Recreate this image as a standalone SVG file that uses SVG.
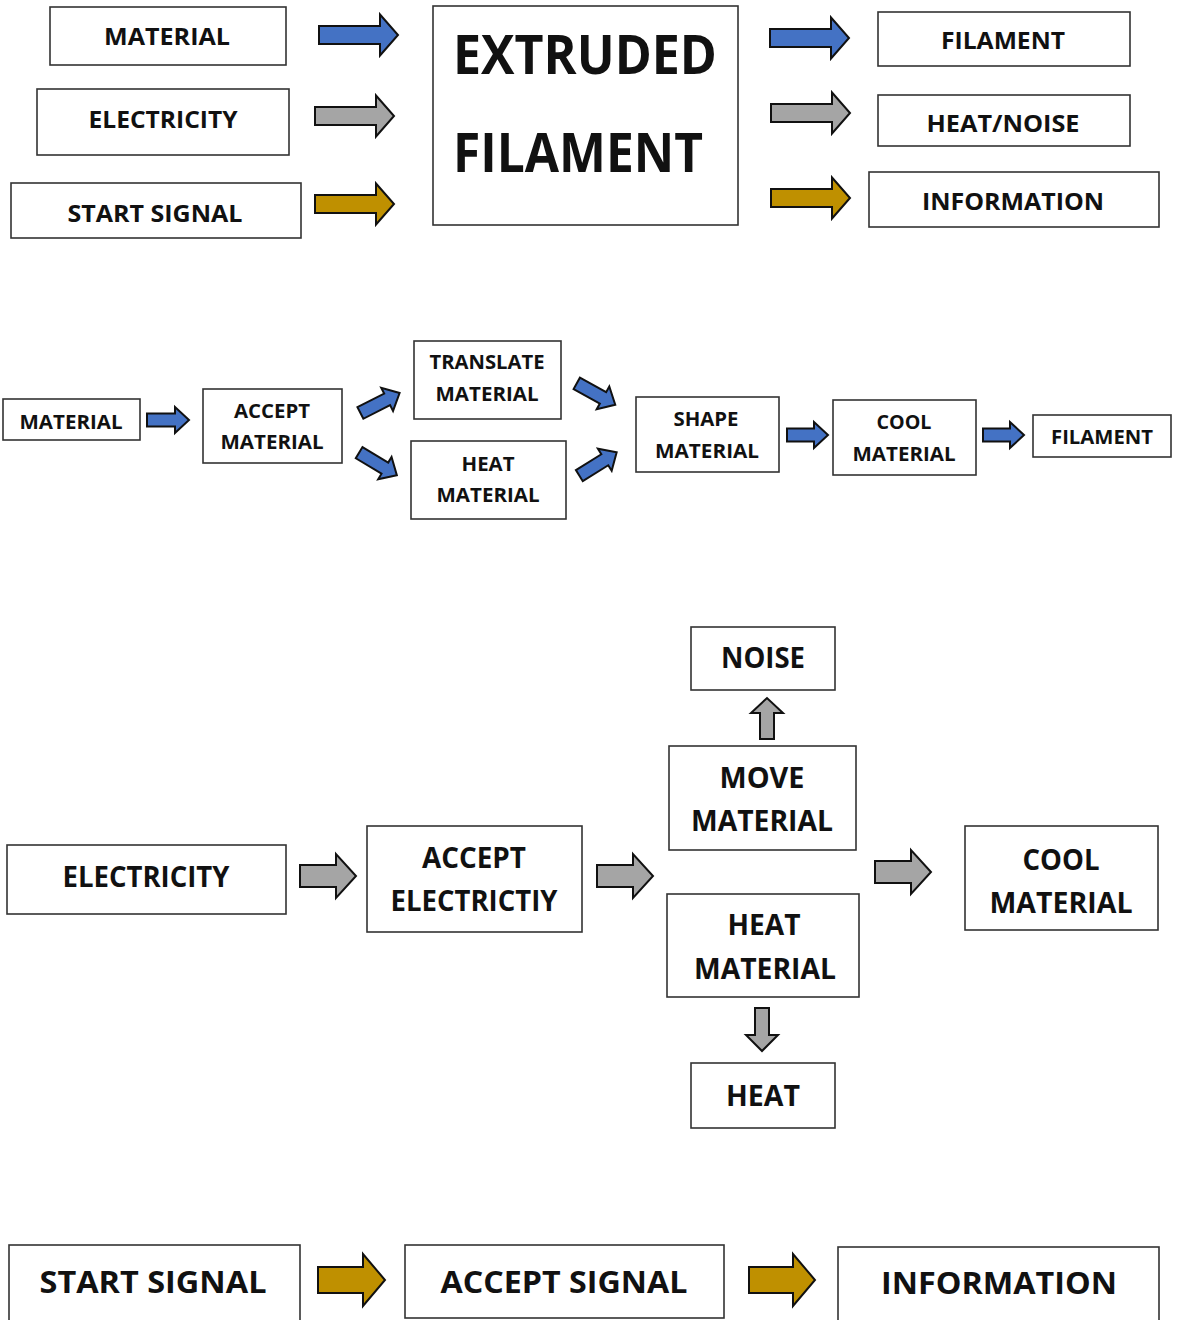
<svg xmlns="http://www.w3.org/2000/svg" width="1177" height="1320" viewBox="0 0 1177 1320">
<style>
.box{fill:#fff;stroke:#333;stroke-width:1.6}
.t{font-family:"Open Sans","Liberation Sans",sans-serif;font-weight:700;fill:#111;text-anchor:middle;dominant-baseline:central}
.blue{fill:#4472C4;stroke:#111;stroke-width:2;stroke-linejoin:miter}
.gray{fill:#A5A5A5;stroke:#111;stroke-width:2}
.gold{fill:#BF9000;stroke:#111;stroke-width:2}
</style>
<defs>
<polygon id="da" points="-22,-6.5 8,-6.5 8,-13 22,0 8,13 8,6.5 -22,6.5"/>
</defs>
<rect width="1177" height="1320" fill="#fff"/>

<!-- Section 1 -->
<g id="s1-material"><rect class="box" x="50" y="7" width="236" height="58"/><text class="t" x="167" y="35" font-size="24" textLength="126" lengthAdjust="spacingAndGlyphs">MATERIAL</text></g>
<g id="s1-electricity"><rect class="box" x="37" y="89" width="252" height="66"/><text class="t" x="163" y="118" font-size="24" textLength="149" lengthAdjust="spacingAndGlyphs">ELECTRICITY</text></g>
<g id="s1-start"><rect class="box" x="11" y="183" width="290" height="55"/><text class="t" x="155" y="212" font-size="24" textLength="175" lengthAdjust="spacingAndGlyphs">START SIGNAL</text></g>
<g id="s1-extruded"><rect class="box" x="433" y="6" width="305" height="219"/>
<text class="t" x="585" y="53" font-size="54" textLength="264" lengthAdjust="spacingAndGlyphs">EXTRUDED</text>
<text class="t" x="578" y="151" font-size="54" textLength="250" lengthAdjust="spacingAndGlyphs">FILAMENT</text></g>
<g id="s1-filament"><rect class="box" x="878" y="12" width="252" height="54"/><text class="t" x="1003" y="39" font-size="24" textLength="124" lengthAdjust="spacingAndGlyphs">FILAMENT</text></g>
<g id="s1-heatnoise"><rect class="box" x="878" y="95" width="252" height="51"/><text class="t" x="1003" y="122" font-size="24" textLength="153" lengthAdjust="spacingAndGlyphs">HEAT/NOISE</text></g>
<g id="s1-information"><rect class="box" x="869" y="172" width="290" height="55"/><text class="t" x="1013" y="200" font-size="24" textLength="182" lengthAdjust="spacingAndGlyphs">INFORMATION</text></g>

<!-- Section 2 -->
<g id="s2-material"><rect class="box" x="3" y="399" width="137" height="41"/><text class="t" x="71" y="422" font-size="19" textLength="103" lengthAdjust="spacingAndGlyphs">MATERIAL</text></g>
<g id="s2-accept"><rect class="box" x="203" y="389" width="139" height="74"/>
<text class="t" x="272" y="411" font-size="19" textLength="76" lengthAdjust="spacingAndGlyphs">ACCEPT</text>
<text class="t" x="272" y="442" font-size="19" textLength="103" lengthAdjust="spacingAndGlyphs">MATERIAL</text></g>
<g id="s2-translate"><rect class="box" x="414" y="341" width="147" height="78"/>
<text class="t" x="487" y="362" font-size="19" textLength="115" lengthAdjust="spacingAndGlyphs">TRANSLATE</text>
<text class="t" x="487" y="394" font-size="19" textLength="103" lengthAdjust="spacingAndGlyphs">MATERIAL</text></g>
<g id="s2-heat"><rect class="box" x="411" y="441" width="155" height="78"/>
<text class="t" x="488" y="464" font-size="19" textLength="53" lengthAdjust="spacingAndGlyphs">HEAT</text>
<text class="t" x="488" y="495" font-size="19" textLength="103" lengthAdjust="spacingAndGlyphs">MATERIAL</text></g>
<g id="s2-shape"><rect class="box" x="636" y="397" width="143" height="75"/>
<text class="t" x="706" y="419" font-size="19" textLength="65" lengthAdjust="spacingAndGlyphs">SHAPE</text>
<text class="t" x="707" y="451" font-size="19" textLength="104" lengthAdjust="spacingAndGlyphs">MATERIAL</text></g>
<g id="s2-cool"><rect class="box" x="833" y="400" width="143" height="75"/>
<text class="t" x="904" y="422" font-size="19" textLength="55" lengthAdjust="spacingAndGlyphs">COOL</text>
<text class="t" x="904" y="454" font-size="19" textLength="103" lengthAdjust="spacingAndGlyphs">MATERIAL</text></g>
<g id="s2-filament"><rect class="box" x="1033" y="415" width="138" height="42"/><text class="t" x="1102" y="437" font-size="19" textLength="102" lengthAdjust="spacingAndGlyphs">FILAMENT</text></g>

<!-- Section 3 -->
<g id="s3-electricity"><rect class="box" x="7" y="845" width="279" height="69"/><text class="t" x="146" y="876" font-size="28" textLength="167" lengthAdjust="spacingAndGlyphs">ELECTRICITY</text></g>
<g id="s3-accept"><rect class="box" x="367" y="826" width="215" height="106"/>
<text class="t" x="474" y="857" font-size="28" textLength="104" lengthAdjust="spacingAndGlyphs">ACCEPT</text>
<text class="t" x="474" y="900" font-size="28" textLength="167" lengthAdjust="spacingAndGlyphs">ELECTRICTIY</text></g>
<g id="s3-noise"><rect class="box" x="691" y="627" width="144" height="63"/><text class="t" x="763" y="657" font-size="28" textLength="84" lengthAdjust="spacingAndGlyphs">NOISE</text></g>
<g id="s3-move"><rect class="box" x="669" y="746" width="187" height="104"/>
<text class="t" x="762" y="777" font-size="28" textLength="85" lengthAdjust="spacingAndGlyphs">MOVE</text>
<text class="t" x="762" y="820" font-size="28" textLength="142" lengthAdjust="spacingAndGlyphs">MATERIAL</text></g>
<g id="s3-heatmat"><rect class="box" x="667" y="894" width="192" height="103"/>
<text class="t" x="764" y="924" font-size="28" textLength="73" lengthAdjust="spacingAndGlyphs">HEAT</text>
<text class="t" x="765" y="968" font-size="28" textLength="142" lengthAdjust="spacingAndGlyphs">MATERIAL</text></g>
<g id="s3-heat"><rect class="box" x="691" y="1063" width="144" height="65"/><text class="t" x="763" y="1095" font-size="28" textLength="74" lengthAdjust="spacingAndGlyphs">HEAT</text></g>
<g id="s3-cool"><rect class="box" x="965" y="826" width="193" height="104"/>
<text class="t" x="1061" y="859" font-size="28" textLength="77" lengthAdjust="spacingAndGlyphs">COOL</text>
<text class="t" x="1061" y="902" font-size="28" textLength="143" lengthAdjust="spacingAndGlyphs">MATERIAL</text></g>

<!-- Section 4 -->
<g id="s4-start"><rect class="box" x="9" y="1245" width="291" height="80"/><text class="t" x="153" y="1281" font-size="31" textLength="227" lengthAdjust="spacingAndGlyphs">START SIGNAL</text></g>
<g id="s4-accept"><rect class="box" x="405" y="1245" width="319" height="73"/><text class="t" x="564" y="1281" font-size="31" textLength="247" lengthAdjust="spacingAndGlyphs">ACCEPT SIGNAL</text></g>
<g id="s4-info"><rect class="box" x="838" y="1247" width="321" height="80"/><text class="t" x="999" y="1282" font-size="31" textLength="236" lengthAdjust="spacingAndGlyphs">INFORMATION</text></g>

<g id="connectors">
<polygon class="blue" points="319,26 380,26 380,14.5 398,35 380,55.5 380,44 319,44"/>
<polygon class="gray" points="315,107 376,107 376,95.5 394,116 376,136.5 376,125 315,125"/>
<polygon class="gold" points="315,195 376,195 376,183.5 394,204 376,224.5 376,213 315,213"/>
<polygon class="blue" points="770,29 831,29 831,17.5 849,38 831,58.5 831,47 770,47"/>
<polygon class="gray" points="771,104 832,104 832,92.5 850,113 832,133.5 832,122 771,122"/>
<polygon class="gold" points="771,189 832,189 832,177.5 850,198 832,218.5 832,207 771,207"/>

<polygon class="blue" points="147,413.5 175,413.5 175,407 189,420 175,433 175,426.5 147,426.5"/>
<use href="#da" class="blue" transform="translate(380,403) rotate(-27)"/>
<use href="#da" class="blue" transform="translate(378,464) rotate(31)"/>
<use href="#da" class="blue" transform="translate(596,394) rotate(29)"/>
<use href="#da" class="blue" transform="translate(598,464) rotate(-32)"/>
<polygon class="blue" points="787,428.5 814,428.5 814,422 828,435 814,448 814,441.5 787,441.5"/>
<polygon class="blue" points="983,428.5 1010,428.5 1010,422 1024,435 1010,448 1010,441.5 983,441.5"/>

<polygon class="gray" points="300,865 336,865 336,854 356,876 336,898 336,887 300,887"/>
<polygon class="gray" points="597,865 633,865 633,854 653,876 633,898 633,887 597,887"/>
<polygon class="gray" points="875,861 911,861 911,850 931,872 911,894 911,883 875,883"/>
<polygon class="gray" points="760,739 760,713 751,713 767,698 783,713 774,713 774,739"/>
<polygon class="gray" points="755,1008 755,1035 746,1035 762,1051 778,1035 769,1035 769,1008"/>

<polygon class="gold" points="318,1267 363,1267 363,1254 385,1280 363,1306 363,1293 318,1293"/>
<polygon class="gold" points="749,1267 793,1267 793,1254 815,1280 793,1306 793,1293 749,1293"/>
</g>
</svg>
